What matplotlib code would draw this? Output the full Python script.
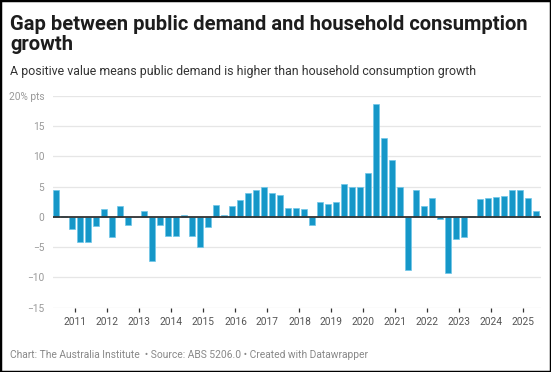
import matplotlib
matplotlib.use("Agg")
from matplotlib import pyplot as plt
from matplotlib.patches import Rectangle

# Quarterly data, 2010 Q2 .. 2025 Q2
start_year = 2010
start_quarter = 2
gap = [4.5, 0.2, -2.0, -4.1, -4.1, -1.5, 1.4, -3.3, 1.8, -1.3,
       0.0, 1.0, -7.2, -1.3, -3.2, -3.1, 0.3, -3.2, -5.0, -1.7,
       1.9, 0.4, 1.8, 2.8, 3.9, 4.5, 4.9, 4.0, 3.7, 1.5,
       1.5, 1.4, -1.4, 2.5, 2.2, 2.5, 5.4, 4.9, 5.0, 7.2,
       18.6, 13.1, 9.4, 5.0, -8.8, 4.4, 1.8, 3.1, -0.3, -9.3,
       -3.6, -3.3, 0.1, 3.0, 3.1, 3.3, 3.5, 4.4, 4.4, 3.2,
       1.0]
year_ticks = list(range(2011, 2026))
y_ticks = [-15, -10, -5, 0, 5, 10, 15, 20]
y_labels = ["\u221215", "\u221210", "\u22125", "0", "5", "10", "15", "20% pts"]

title_lines = ["Gap between public demand and household consumption", "growth"]
subtitle = "A positive value means public demand is higher than household consumption growth"
footer = "Chart: The Australia Institute  \u2022 Source: ABS 5206.0 \u2022 Created with Datawrapper"

W, H = 551, 372
plt.rcParams['font.family'] = ['Roboto', 'DejaVu Sans']

fig = plt.figure(figsize=(W / 100, H / 100), dpi=100)
fig.patch.set_facecolor("white")

# axes placement in pixels
left, right, top, bottom = 52.7, 541, 96, 307.7
ax = fig.add_axes([left / W, 1 - bottom / H, (right - left) / W, (bottom - top) / H])

xs = []
for i in range(len(gap)):
    q = start_quarter - 1 + i
    xs.append(start_year + (q // 4) + (q % 4) * 0.25 + 0.15)

ax.bar(xs, gap, width=0.18, color="#1597c8", edgecolor="#6fc6e8",
       linewidth=0.5, zorder=2)
ax.axhline(0, color="#333333", lw=1.3, zorder=3)

ax.set_xlim(2010.2875, 2025.547)
ax.set_ylim(-15, 20)

for y in y_ticks:
    if y != 0:
        ax.axhline(y, color="#e6e6e6", lw=0.9, zorder=0)

ax.set_yticks(y_ticks)
ax.set_yticklabels(y_labels, color="#999999", fontsize=7.3)
ax.tick_params(axis="y", length=0, pad=6)

ax.set_xticks(year_ticks)
ax.set_xticklabels([str(y) for y in year_ticks], color="#555555", fontsize=7.3)
ax.tick_params(axis="x", length=3, width=0.9, color="#333333", pad=4, direction="out")

for s in ax.spines.values():
    s.set_visible(False)
ax.set_facecolor("none")

for line, base in zip(title_lines, [29.5, 50.5]):
    fig.text(10 / W, 1 - base / H, line, fontsize=14.5, fontweight="bold",
             color="#1d1d1d", va="baseline", ha="left")
fig.text(10 / W, 1 - 74.5 / H, subtitle, fontsize=8.9, color="#333333",
         va="baseline", ha="left")
fig.text(10 / W, 1 - 357.5 / H, footer, fontsize=7.35, color="#888888",
         va="baseline", ha="left")

fig.patches.append(Rectangle((0, 0), 1, 1, transform=fig.transFigure,
                             fill=False, edgecolor="black", lw=2.5))

fig.savefig("out.png", dpi=100)
